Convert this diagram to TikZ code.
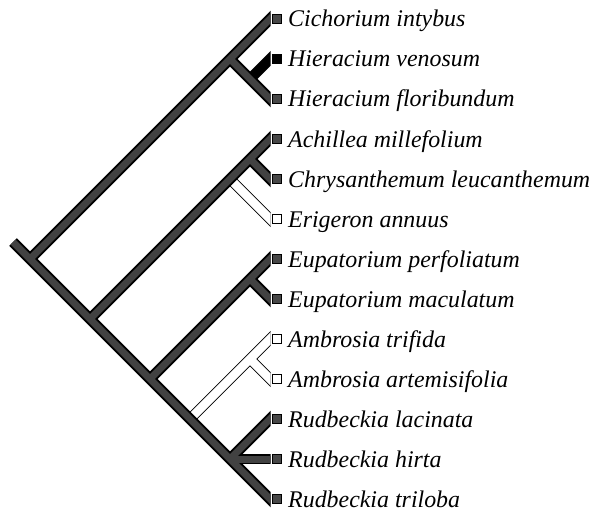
\documentclass[tikz,border=0pt]{standalone}
\usepackage{fontspec}
\setmainfont{Liberation Serif}
\begin{document}
\begin{tikzpicture}[x=1pt,y=-1pt]
\useasboundingbox (0,0) rectangle (596,513);
\tikzset{
  outl/.style={line width=10.8pt, draw=black},
  dkin/.style={line width=7pt, draw=black!74},
  whin/.style={line width=8.8pt, draw=white},
  wout/.style={line width=10.4pt, draw=black},
  solidb/.style={line width=10.4pt, draw=black},
  mk/.style={draw=black, line width=1pt, minimum size=9.5pt, inner sep=0pt, fill=black!72},
  mkb/.style={mk, fill=black},
  mkw/.style={mk, fill=white},
  lbl/.style={anchor=base west, inner sep=0pt, font=\fontsize{23.9}{28}\selectfont\itshape}
}
% internal nodes
\coordinate (stub) at (13,242);
\coordinate (root) at (30,259);
\coordinate (nH) at (230,59);
\coordinate (nHv) at (250,79);
\coordinate (nA) at (90,319);
\coordinate (nC) at (250,159);
\coordinate (nE) at (230,179);
\coordinate (nEu) at (150,379);
\coordinate (nEm) at (250,279);
\coordinate (nAm) at (190,419);
\coordinate (nAa) at (250,359);
\coordinate (nR) at (230,459);
% tips (extended, clipped at x=270)
\coordinate (t1) at (278,11);
\coordinate (t2) at (278,51);
\coordinate (t3) at (278,107);
\coordinate (t4) at (278,131);
\coordinate (t5) at (278,187);
\coordinate (t6) at (278,227);
\coordinate (t7) at (278,251);
\coordinate (t8) at (278,307);
\coordinate (t9) at (278,331);
\coordinate (t10) at (278,387);
\coordinate (t11) at (278,411);
\coordinate (t12) at (278,459);
\coordinate (t13) at (278,507);

\begin{scope}
\clip (0,0) rectangle (270.5,513);
% white branches
\draw[wout] (nE) -- (t6);
\draw[wout] (nAm) -- (t9);
\draw[wout] (nAa) -- (t10);
\draw[whin] (nE) -- (t6);
\draw[whin] (nAm) -- (t9);
\draw[whin] (nAa) -- (t10);
% black branch
\draw[solidb] (nHv) -- (t2);
% dark branches: outline
\draw[outl] (stub) -- (t13);
\draw[outl] (root) -- (t1);
\draw[outl] (nH) -- (t3);
\draw[outl] (nA) -- (t4);
\draw[outl] (nC) -- (t5);
\draw[outl] (nEu) -- (t7);
\draw[outl] (nEm) -- (t8);
\draw[outl] (nR) -- (t11);
\draw[outl] (nR) -- (t12);
% dark branches: inner
\draw[dkin] (stub) -- (t13);
\draw[dkin] (root) -- (t1);
\draw[dkin] (nH) -- (t3);
\draw[dkin] (nA) -- (t4);
\draw[dkin] (nC) -- (t5);
\draw[dkin] (nEu) -- (t7);
\draw[dkin] (nEm) -- (t8);
\draw[dkin] (nR) -- (t11);
\draw[dkin] (nR) -- (t12);
\end{scope}

% leaf markers
\node[mk]  (m1)  at (277,19)  {};
\node[mkb] (m2)  at (277,59)  {};
\node[mk]  (m3)  at (277,99)  {};
\node[mk]  (m4)  at (277,139) {};
\node[mk]  (m5)  at (277,179) {};
\node[mkw] (m6)  at (277,219) {};
\node[mk]  (m7)  at (277,259) {};
\node[mk]  (m8)  at (277,299) {};
\node[mkw] (m9)  at (277,339) {};
\node[mkw] (m10) at (277,379) {};
\node[mk]  (m11) at (277,419) {};
\node[mk]  (m12) at (277,459) {};
\node[mk]  (m13) at (277,499) {};

% labels
\node[lbl] (l1)  at (288,27)  {Cichorium intybus};
\node[lbl] (l2)  at (288,67)  {Hieracium venosum};
\node[lbl] (l3)  at (288,107) {Hieracium floribundum};
\node[lbl] (l4)  at (288,147) {Achillea millefolium};
\node[lbl] (l5)  at (288,187) {Chrysanthemum leucanthemum};
\node[lbl] (l6)  at (288,227) {Erigeron annuus};
\node[lbl] (l7)  at (288,267) {Eupatorium perfoliatum};
\node[lbl] (l8)  at (288,307) {Eupatorium maculatum};
\node[lbl] (l9)  at (288,347) {Ambrosia trifida};
\node[lbl] (l10) at (288,387) {Ambrosia artemisifolia};
\node[lbl] (l11) at (288,427) {Rudbeckia lacinata};
\node[lbl] (l12) at (288,467) {Rudbeckia hirta};
\node[lbl] (l13) at (288,507) {Rudbeckia triloba};
\end{tikzpicture}
\end{document}
